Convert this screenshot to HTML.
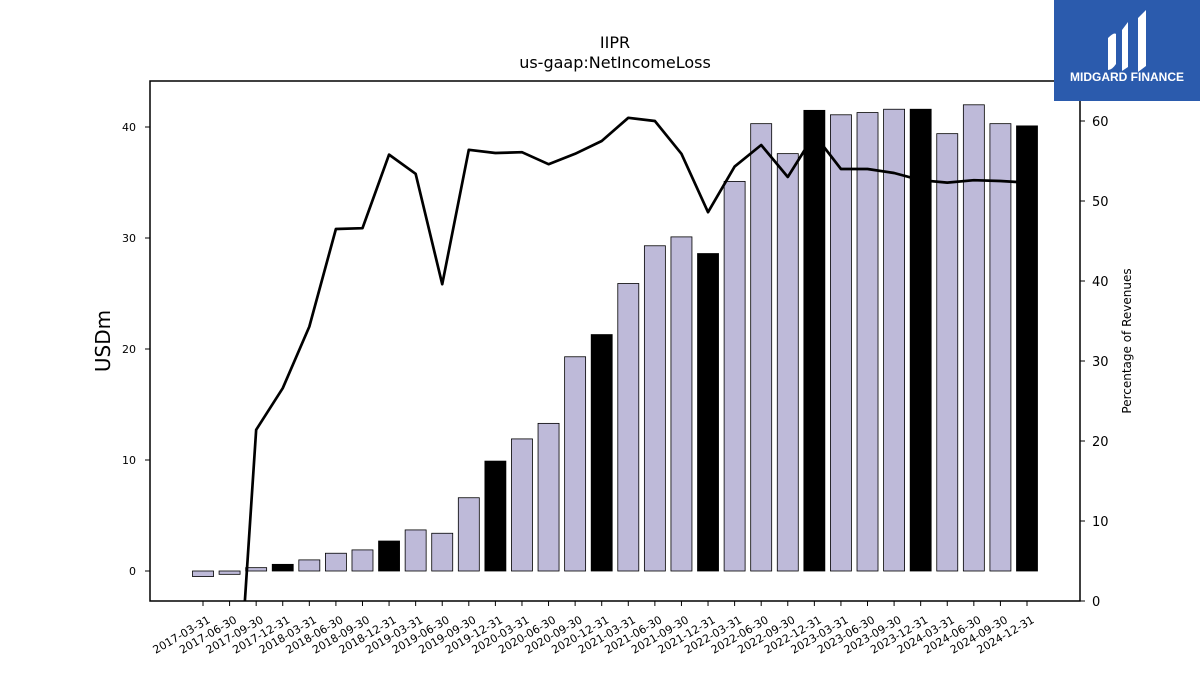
<!DOCTYPE html>
<html><head><meta charset="utf-8"><style>
html,body{margin:0;background:#fff;font-family:"Liberation Sans","DejaVu Sans",sans-serif;width:1200px;height:675px;overflow:hidden;}
svg{display:block}
</style></head><body>
<svg id="chart" width="1200" height="675" viewBox="0 0 1200 675" xmlns="http://www.w3.org/2000/svg">
<text x="615" y="48" text-anchor="middle" font-size="16" font-family="DejaVu Sans, sans-serif">IIPR</text>
<text x="615" y="68" text-anchor="middle" font-size="16" font-family="DejaVu Sans, sans-serif">us-gaap:NetIncomeLoss</text>
<defs><clipPath id="plotclip"><rect x="150" y="81" width="930" height="520"/></clipPath></defs>
<g id="bars"></g>
<g id="line" clip-path="url(#plotclip)"></g>
<rect x="150" y="81" width="930" height="520" fill="none" stroke="#000" stroke-width="1.5"/>
<g id="axes"></g>
<text transform="translate(110,341) rotate(-90)" text-anchor="middle" font-size="20" font-family="DejaVu Sans, sans-serif">USDm</text>
<text transform="translate(1131,341) rotate(-90)" text-anchor="middle" font-size="12" font-family="DejaVu Sans, sans-serif">Percentage of Revenues</text>
<g>
<rect x="1054" y="0" width="146" height="101" fill="#2b5bad"/>
<path d="M1108 38 q6-6 8-4 l0 30 q-4 6-8 6z M1122 30 l6-8 0 45 -6 4z M1138 18 l8-8 0 56 -8 6z" fill="#fff"/>
<text x="1127" y="81" text-anchor="middle" font-size="12" font-weight="bold" fill="#fff">MIDGARD FINANCE</text>
</g>
</svg>
<script>
const categories=["2017-03-31","2017-06-30","2017-09-30","2017-12-31","2018-03-31","2018-06-30","2018-09-30","2018-12-31","2019-03-31","2019-06-30","2019-09-30","2019-12-31","2020-03-31","2020-06-30","2020-09-30","2020-12-31","2021-03-31","2021-06-30","2021-09-30","2021-12-31","2022-03-31","2022-06-30","2022-09-30","2022-12-31","2023-03-31","2023-06-30","2023-09-30","2023-12-31","2024-03-31","2024-06-30","2024-09-30","2024-12-31"];
const netIncome=[-0.5,-0.3,0.3,0.6,1.0,1.6,1.9,2.7,3.7,3.4,6.6,9.9,11.9,13.3,19.3,21.3,25.9,29.3,30.1,28.6,35.1,40.3,37.6,41.5,41.1,41.3,41.6,41.6,39.4,42.0,40.3,40.1];
const pctRevenue=[-40,-29,21.4,26.6,34.3,46.5,46.6,55.8,53.4,39.6,56.4,56.0,56.1,54.6,55.9,57.5,60.4,60.0,55.9,48.6,54.3,57.0,53.0,58.3,54.0,54.0,53.5,52.6,52.3,52.6,52.5,52.3];
const leftTicks=[0,10,20,30,40];
const rightTicks=[0,10,20,30,40,50,60];
const NS="http://www.w3.org/2000/svg";
const x=i=>203+i*(1027-203)/31;
const yL=v=>571-v*11.1;
const yR=v=>601-v*8;
function mk(t,a,p){const e=document.createElementNS(NS,t);for(const k in a)e.setAttribute(k,a[k]);p.appendChild(e);return e;}
const bars=document.getElementById('bars'),line=document.getElementById('line'),axes=document.getElementById('axes');
netIncome.forEach((v,i)=>{
 const y0=yL(0),y1=yL(v);
 const r=mk('rect',{x:x(i)-10.5,y:Math.min(y0,y1),width:21,height:Math.max(Math.abs(y1-y0),0.5),fill:categories[i].endsWith('12-31')?'#000':'#bebad9',stroke:'#000','stroke-width':0.8},bars);
 
 
});
const pl=mk('polyline',{points:pctRevenue.map((v,i)=>x(i)+','+yR(v)).join(' '),fill:'none',stroke:'#000','stroke-width':2.7,'stroke-linejoin':'round'},line);


leftTicks.forEach(t=>{
 mk('line',{x1:145,x2:150,y1:yL(t),y2:yL(t),stroke:'#000'},axes);
 const tx=mk('text',{x:136,y:yL(t)+4,'text-anchor':'end','font-size':11,'font-family':'DejaVu Sans, sans-serif'},axes);tx.textContent=t;
 
 
});
rightTicks.forEach(t=>{
 mk('line',{x1:1080,x2:1085,y1:yR(t),y2:yR(t),stroke:'#000'},axes);
 const tx=mk('text',{x:1092,y:yR(t)+5,'font-size':13,'font-family':'DejaVu Sans, sans-serif'},axes);tx.textContent=t;
 
 
});
categories.forEach((c,i)=>{
 mk('line',{x1:x(i),x2:x(i),y1:601,y2:606,stroke:'#000'},axes);
 const tx=mk('text',{transform:'translate('+(x(i)+8)+',622) rotate(-30)','text-anchor':'end','font-size':11,'font-family':'DejaVu Sans, sans-serif'},axes);tx.textContent=c;
 
 
});
</script>
</body></html>
